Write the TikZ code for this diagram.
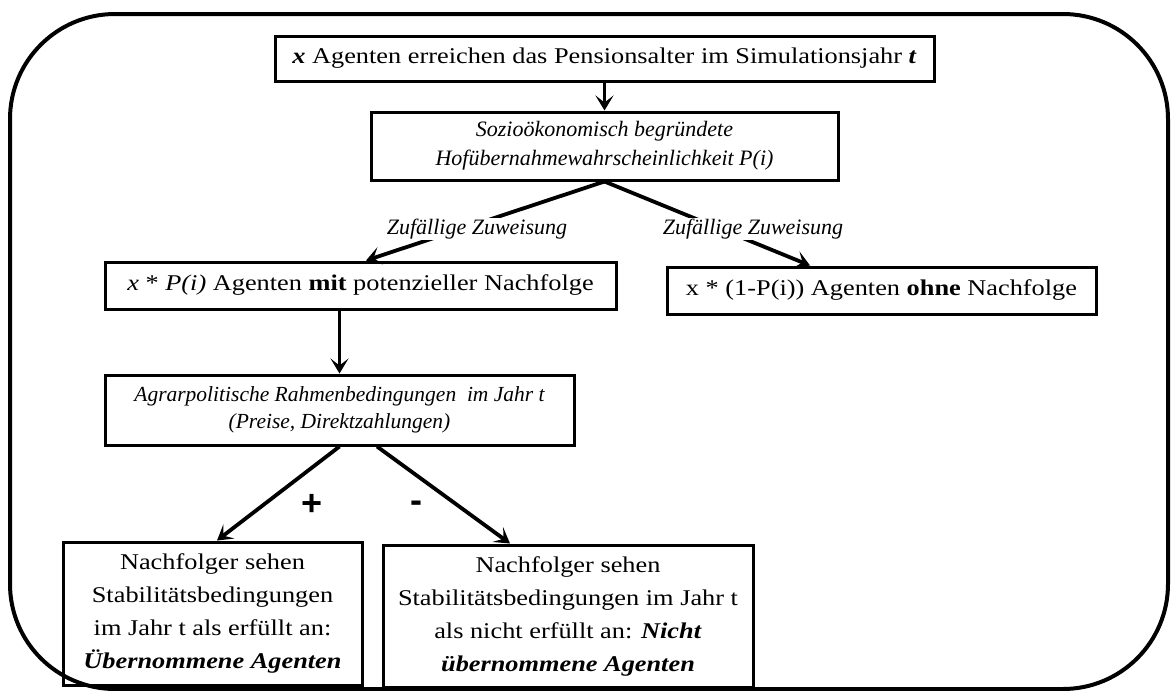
\documentclass[tikz,border=0pt]{standalone}
\usepackage{fontspec}
\setmainfont[FakeStretch=1.17]{Liberation Serif}
\newfontfamily\plainserif{Liberation Serif}
\newfontfamily\plusfont{Liberation Sans}
\usetikzlibrary{arrows.meta}
\tikzset{
  box/.style={draw, line width=3pt, inner sep=0pt, align=center},
  conn/.style={line width=3.8pt, -{Stealth[length=15pt,width=18pt,inset=7pt]}},
  lbl/.style={fill=white, inner sep=1pt, font=\fontsize{22}{26}\selectfont\plainserif\itshape},
  sign/.style={font=\fontsize{36}{38}\selectfont\plusfont\bfseries, inner sep=0pt},
}
\begin{document}
\begin{tikzpicture}[x=1pt,y=-1pt]
\useasboundingbox (0,0) rectangle (1171,691);
\draw[line width=4pt, rounded corners=105pt] (10,14) rectangle (1168,689);

\node[box, minimum width=659pt, minimum height=45pt, font=\fontsize{22.5}{26}\selectfont] (top) at (604.5,58.5)
  {\textbf{\textit{x}} Agenten erreichen das Pensionsalter im Simulationsjahr \textbf{\textit{t}}};
\node[box, minimum width=467pt, minimum height=68pt, font=\fontsize{22}{29}\selectfont\plainserif\itshape] (soc) at (604.5,146)
  {Sozioökonomisch begründete\\Hofübernahmewahrscheinlichkeit P(i)};
\node[box, minimum width=511pt, minimum height=47pt, font=\fontsize{22.5}{26}\selectfont] (mit) at (360.5,285.5)
  {\textit{x} * \textit{P(i)} Agenten \textbf{mit} potenzieller Nachfolge};
\node[box, minimum width=429pt, minimum height=47pt, font=\fontsize{22.5}{26}\selectfont] (ohne) at (881.5,290.5)
  {x * (1-P(i)) Agenten \textbf{ohne} Nachfolge};
\node[box, minimum width=469pt, minimum height=70pt, font=\fontsize{21.5}{27}\selectfont\plainserif\itshape] (agrar) at (339.5,410)
  {Agrarpolitische Rahmenbedingungen\ \ im Jahr t\\(Preise, Direktzahlungen)};
\node[box, minimum width=299pt, minimum height=143pt, font=\fontsize{22.5}{33}\selectfont] (bl) at (212.5,613.5)
  {Nachfolger sehen\\Stabilitätsbedingungen\\im Jahr t als erfüllt an:\\\textbf{\textit{Übernommene Agenten}}};
\node[box, minimum width=370pt, minimum height=142pt, font=\fontsize{22.5}{33}\selectfont] (br) at (568,616)
  {Nachfolger sehen\\Stabilitätsbedingungen im Jahr t\\als nicht erfüllt an: \textbf{\textit{Nicht}}\\\textbf{\textit{übernommene Agenten}}};

\draw[conn] (top.south) -- (soc.north);
\draw[conn] (soc.south) -- ([xshift=5.5pt]mit.north);
\draw[conn] (soc.south) -- ([xshift=-71.5pt]ohne.north);
\draw[conn] (agrar.north |- mit.south) -- (agrar.north);
\draw[conn] (agrar.south) -- ([xshift=4.5pt]bl.north);
\draw[conn] ([xshift=37.5pt]agrar.south) -- ([xshift=-58pt]br.north);

\node[lbl] (l1) at (477,229) {Zufällige Zuweisung};
\node[lbl] (l2) at (753,229) {Zufällige Zuweisung};
\node[sign] (plus) at (312,505) {+};
\node[sign] (minus) at (416,507) {-};
\end{tikzpicture}
\end{document}
